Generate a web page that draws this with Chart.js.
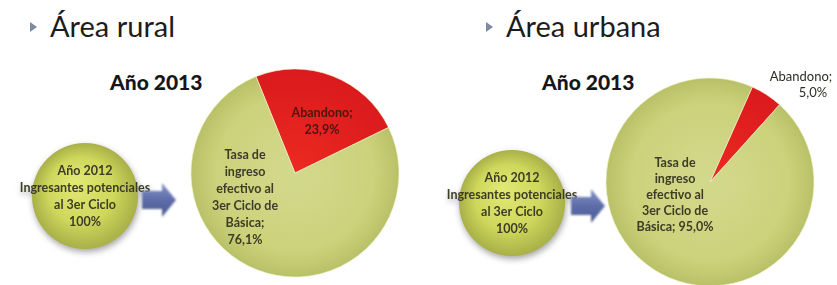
<!DOCTYPE html>
<html>
<head>
<meta charset="utf-8">
<script src="https://cdn.jsdelivr.net/npm/chart.js@4.4.1/dist/chart.umd.min.js"></script>
<style>
  html, body { margin: 0; padding: 0; background: #fff; overflow: hidden; }
  body { width: 837px; height: 285px; position: relative; font-family: Lato, 'Open Sans', sans-serif; }
  .box { position: absolute; }
  .title { position: absolute; font-size: 29px; color: #1c1c1c; white-space: nowrap; }
  .title .bullet { display: inline-block; width: 0; height: 0; border-top: 5px solid transparent; border-bottom: 5px solid transparent; border-left: 7px solid #7f8aa6; margin-right: 13px; vertical-align: 5px; }
  .year { position: absolute; font-size: 21px; font-weight: 900; color: #161616; }
  .base canvas { filter: drop-shadow(1px 3px 3px rgba(0,0,0,0.35)); }
  svg.arrow { position: absolute; overflow: visible; }
</style>
</head>
<body>

<div class="title" style="left:30px; top:8px;"><span class="bullet"></span>Área rural</div>
<div class="title" style="left:486px; top:8px;"><span class="bullet"></span>Área urbana</div>
<div class="year" style="left:110px; top:69px;">Año 2013</div>
<div class="year" style="left:542px; top:69px;">Año 2013</div>

<div class="box base" id="ruralBaseBox"><canvas id="ruralBase"></canvas></div>
<div class="box base" id="urbanBaseBox"><canvas id="urbanBase"></canvas></div>
<div class="box" id="ruralPieBox"><canvas id="ruralPie"></canvas></div>
<div class="box" id="urbanPieBox"><canvas id="urbanPie"></canvas></div>

<svg class="arrow" style="left:142px; top:183px;" width="36" height="36"><use href="#arr"/></svg>
<svg class="arrow" style="left:571px; top:189px;" width="36" height="36"><use href="#arr"/></svg>
<svg width="0" height="0" style="position:absolute">
  <defs>
    <linearGradient id="ag" x1="0" y1="0" x2="0" y2="1">
      <stop offset="0" stop-color="#8392c8"/>
      <stop offset="0.5" stop-color="#5d6da8"/>
      <stop offset="1" stop-color="#4a5991"/>
    </linearGradient>
    <filter id="sh" x="-30%" y="-30%" width="160%" height="160%"><feGaussianBlur stdDeviation="0.8"/></filter>
    <g id="arr" filter="url(#sh)"><path d="M0 8 H20 V0 L34 17 L20 34 V26 H0 Z" fill="url(#ag)"/></g>
  </defs>
</svg>

<script>
// data
const categories = ['Abandono', 'Tasa de ingreso efectivo al 3er Ciclo de Básica'];
const ruralValues = [23.9, 76.1];
const urbanValues = [5.0, 95.0];
const baseValues = [100];
const baseLines = ['Año 2012', 'Ingresantes potenciales', 'al 3er Ciclo', '100%'];

const pct = v => v.toFixed(1).replace('.', ',') + '%';

// layout
const BIG_R = 104, SMALL_R = 53;
function place(boxId, canvasId, cx, cy, size) {
  const box = document.getElementById(boxId);
  box.style.left = (cx - size / 2) + 'px';
  box.style.top = (cy - size / 2) + 'px';
  const c = document.getElementById(canvasId);
  c.width = size; c.height = size;
  return c;
}

// centre of the chart area (same point the pie is drawn around)
function centre(chart) {
  const a = chart.chartArea;
  if (!a) return null;
  const x = (a.left + a.right) / 2, y = (a.top + a.bottom) / 2;
  return isFinite(x) && isFinite(y) ? { x, y } : null;
}

// draws text blocks relative to the pie centre
const sliceText = {
  id: 'sliceText',
  afterDatasetsDraw(chart, args, opts) {
    const arc = chart.getDatasetMeta(0).data[0];
    const ctx = chart.ctx;
    ctx.save();
    ctx.textAlign = 'center';
    ctx.textBaseline = 'middle';
    (opts.blocks || []).forEach(b => {
      ctx.font = b.font;
      ctx.fillStyle = b.color;
      b.lines.forEach((t, i) => ctx.fillText(t, arc.x + b.dx, arc.y + b.dy + i * b.lh));
    });
    ctx.restore();
  }
};

function radial(ctx, r, stops, fallback, ox, oy) {
  const c = centre(ctx.chart);
  if (!c) return fallback;
  const g = ctx.chart.ctx.createRadialGradient(c.x + (ox || 0), c.y + (oy || 0), 2, c.x, c.y, r);
  stops.forEach(s => g.addColorStop(s[0], s[1]));
  return g;
}
const greenFill = ctx => radial(ctx, BIG_R, [[0, '#d3d98c'], [0.75, '#cbd27b'], [1, '#b9c168']], '#c9d17a');
const redFill = ctx => radial(ctx, BIG_R, [[0, '#ec2a22'], [1, '#da1a1c']], '#e3201f');
const sliceFill = ctx => ctx.dataIndex === 0 ? redFill(ctx) : greenFill(ctx);
const baseFill = ctx => radial(ctx, SMALL_R, [[0, '#e2e874'], [0.6, '#cfd75c'], [1, '#a8b048']], '#cdd55c', -10, -14);

const labelFont = 'bold 12.5px Lato, "Open Sans", sans-serif';
const outFont = '13px Lato, "Open Sans", sans-serif';
const darkText = '#3d3c26';

function bigPie(canvas, values, rotation, blocks) {
  return new Chart(canvas.getContext('2d'), {
    type: 'pie',
    data: {
      labels: categories,
      datasets: [{
        data: values,
        backgroundColor: sliceFill,
        borderColor: 'rgba(240,242,200,0.6)',
        borderWidth: 1,
        radius: BIG_R
      }]
    },
    options: {
      responsive: false,
      animation: false,
      rotation: rotation,
      layout: { padding: 0 },
      plugins: { legend: { display: false }, tooltip: { enabled: false }, sliceText: { blocks } }
    },
    plugins: [sliceText]
  });
}

function basePie(canvas) {
  return new Chart(canvas.getContext('2d'), {
    type: 'pie',
    data: {
      labels: ['Ingresantes potenciales'],
      datasets: [{ data: baseValues, backgroundColor: baseFill, borderWidth: 0, radius: SMALL_R }]
    },
    options: {
      responsive: false,
      animation: false,
      plugins: {
        legend: { display: false }, tooltip: { enabled: false },
        sliceText: { blocks: [{ lines: baseLines, dx: 0, dy: -25, lh: 17, font: labelFont, color: darkText }] }
      }
    },
    plugins: [sliceText]
  });
}

basePie(place('ruralBaseBox', 'ruralBase', 85, 196, 150));
basePie(place('urbanBaseBox', 'urbanBase', 512, 203, 150));

bigPie(place('ruralPieBox', 'ruralPie', 295, 173, 260), ruralValues, -22, [
  { lines: ['Abandono;', pct(ruralValues[0])], dx: 27, dy: -60, lh: 17, font: labelFont, color: '#4a1610' },
  { lines: ['Tasa de', 'ingreso', 'efectivo al', '3er Ciclo de', 'Básica;', pct(ruralValues[1])],
    dx: -50, dy: -18, lh: 17, font: labelFont, color: darkText }
]);

bigPie(place('urbanPieBox', 'urbanPie', 710, 182, 260), urbanValues, 24, [
  { lines: ['Abandono;'], dx: 91, dy: -105, lh: 15, font: outFont, color: '#2e2e24' },
  { lines: [pct(urbanValues[0])], dx: 103, dy: -89, lh: 15, font: outFont, color: '#2e2e24' },
  { lines: ['Tasa de', 'ingreso', 'efectivo al', '3er Ciclo de', 'Básica; ' + pct(urbanValues[1])],
    dx: -35, dy: -19, lh: 16, font: labelFont, color: darkText }
]);
</script>
</body>
</html>
